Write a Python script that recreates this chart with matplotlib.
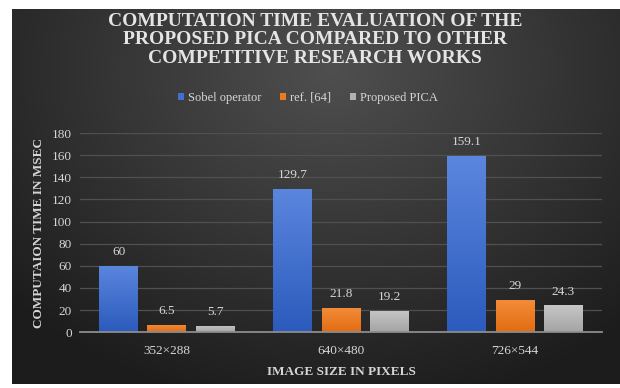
import numpy as np
import matplotlib
matplotlib.use("Agg")
import matplotlib.pyplot as plt
from matplotlib.colors import LinearSegmentedColormap

# chart data
sizes = ["352×288", "640×480", "726×544"]
sobel = [60, 129.7, 159.1]
ref64 = [6.5, 21.8, 29]
pica = [5.7, 19.2, 24.3]
series_names = ["Sobel operator", "ref. [64]", "Proposed PICA"]
colors = ["#4170d0", "#ee7a20", "#b2b2b2"]
# bottom -> top shades used for the bar gradient
grads = [("#2c5bbd", "#5b86de"), ("#e26c12", "#f38d3a"), ("#a4a4a4", "#c6c6c6")]

serif = ["Liberation Serif", "DejaVu Serif"]
txt = "#d6d6d6"

fig = plt.figure(figsize=(6.2, 3.88), dpi=100, facecolor="white")

# dark radial background panel (white margin at left/top like the source)
bg = fig.add_axes([12 / 620, 4 / 388, 608 / 620, 375 / 388], zorder=-10)
yy, xx = np.mgrid[0:375, 0:608]
d = np.sqrt(((xx - 320) / 480.0) ** 2 + ((yy - 60) / 380.0) ** 2)
shade = np.clip(0.31 - 0.22 * d, 0.11, 0.32)
bg.imshow(np.dstack([shade] * 3), aspect="auto", extent=[0, 1, 0, 1])
bg.axis("off")

ax = fig.add_axes([0.129, 0.144, 0.842, 0.513])
ax.set_facecolor("none")

x = np.arange(len(sizes))
w = 0.224
off = 0.277
grad = np.linspace(0, 1, 64).reshape(-1, 1)
for i, (vals, name, c) in enumerate(zip([sobel, ref64, pica], series_names, colors)):
    bars = ax.bar(x + (i - 1) * off, vals, w, color=c, label=name, zorder=3)
    cmap = LinearSegmentedColormap.from_list(name, grads[i])
    for b, v in zip(bars, vals):
        x0 = b.get_x()
        im = ax.imshow(grad, cmap=cmap, origin="lower", aspect="auto", zorder=3.5,
                       extent=[x0, x0 + b.get_width(), 0, v])
        im.set_clip_path(b)
        ax.text(x0 + b.get_width() / 2, v + 7, f"{v:g}", ha="center", va="bottom",
                fontsize=9.5, color=txt, family=serif)

ax.set_xlim(-0.5, 2.5)
ax.set_ylim(0, 180)
ax.set_yticks(range(0, 181, 20))
ax.set_xticks(x)
ax.set_xticklabels(sizes)
ax.yaxis.grid(True, color="#505050", linewidth=0.9, zorder=0)
ax.tick_params(axis="y", length=0, labelsize=9.5, colors=txt, pad=6)
ax.tick_params(axis="x", length=0, labelsize=9.5, colors=txt, pad=9)
for lbl in ax.get_xticklabels() + ax.get_yticklabels():
    lbl.set_family(serif)
for s in ["top", "right", "left"]:
    ax.spines[s].set_visible(False)
ax.spines["bottom"].set_color("#8c8c8c")
ax.spines["bottom"].set_linewidth(1.3)
ax.spines["bottom"].set_zorder(4)

ax.set_xlabel("IMAGE SIZE IN PIXELS", family=serif, fontsize=9.5, fontweight="bold",
              color=txt, labelpad=7)
ax.set_ylabel("COMPUTAION TIME IN MSEC", family=serif, fontsize=9.5, fontweight="bold",
              color=txt, labelpad=5)

fig.text(0.508, 1 - 40 / 388, "COMPUTATION TIME EVALUATION OF THE\nPROPOSED PICA COMPARED TO OTHER\nCOMPETITIVE RESEARCH WORKS",
         ha="center", va="center", family=serif, fontsize=14, fontweight="bold",
         color="#e4e4e4", linespacing=1.15)

leg = fig.legend(loc="center", bbox_to_anchor=(0.496, 1 - 98 / 388), ncol=3, frameon=False,
                 prop={"family": serif, "size": 9}, handlelength=0.5, handleheight=0.5,
                 handletextpad=0.3, columnspacing=1.5)
for t in leg.get_texts():
    t.set_color(txt)

fig.savefig("out.png", dpi=100)
